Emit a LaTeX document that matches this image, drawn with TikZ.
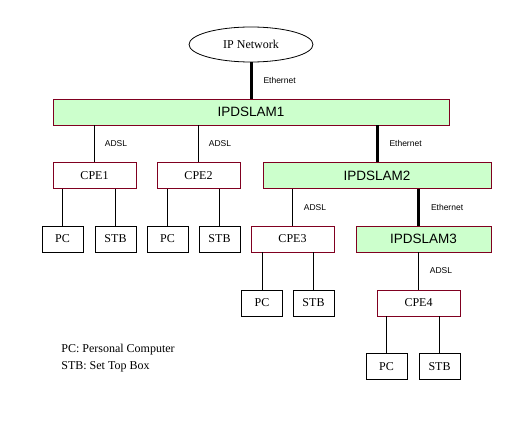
\documentclass[tikz,border=0pt]{standalone}
\usepackage{fontspec}
\setmainfont{Liberation Serif}
\setsansfont{Liberation Sans}
\usetikzlibrary{shapes.geometric}
\definecolor{boxred}{RGB}{128,0,32}
\definecolor{dslamgreen}{RGB}{204,255,204}
\begin{document}
\begin{tikzpicture}[x=1pt, y=-1pt, line width=0.8pt,
  dslam node/.style={rectangle,draw=boxred,fill=dslamgreen,minimum height=26pt,inner sep=0pt,font=\sffamily\fontsize{13.5}{14}\selectfont},
  cpe node/.style={rectangle,draw=boxred,fill=white,minimum width=83pt,minimum height=26pt,inner sep=0pt,font=\fontsize{12}{13}\selectfont},
  host node/.style={rectangle,draw,minimum width=41pt,minimum height=26pt,inner sep=0pt,font=\fontsize{12}{13}\selectfont},
  eth/.style={line width=3pt},
  link label/.style={midway,anchor=west,inner sep=0pt,font=\sffamily\fontsize{8.5}{9}\selectfont}]
\useasboundingbox (0,0) rectangle (517,428);
\node [ellipse,draw,minimum width=124pt,minimum height=35pt,inner sep=0pt,font=\fontsize{12}{13}\selectfont](net) at (251,44.5) {IP Network};
\node [dslam node,minimum width=396pt](dslam1) at (251,112) {IPDSLAM1};
\node [dslam node,minimum width=228pt](dslam2) at (377,175.5) {IPDSLAM2};
\node [dslam node,minimum width=135pt](dslam3) at (423.5,239) {IPDSLAM3};
\node [cpe node](cpe1) at (94.5,175.5) {CPE1};
\node [cpe node](cpe2) at (198.5,175.5) {CPE2};
\node [cpe node](cpe3) at (292.5,239) {CPE3};
\node [cpe node](cpe4) at (418.5,303) {CPE4};
\node [host node](pc1) at (62.5,239) {PC};
\node [host node](stb1) at (115.5,239) {STB};
\node [host node](pc2) at (167.5,239) {PC};
\node [host node](stb2) at (219.5,239) {STB};
\node [host node](pc3) at (262,303) {PC};
\node [host node](stb3) at (313.5,303) {STB};
\node [host node](pc4) at (386.5,366.5) {PC};
\node [host node](stb4) at (439.5,366.5) {STB};
\begin{scope}[every node/.style={anchor=west,inner sep=0pt,font=\fontsize{12}{13}\selectfont}]
\node (key1) at (61,350) {PC: Personal Computer};
\node (key2) at (61,367) {STB: Set Top Box};
\end{scope}
\path [eth]
    (net.south) edge node[link label,xshift=11pt] {Ethernet} (dslam1.north)
    (dslam1.south -| dslam2) edge node[link label,xshift=11pt] {Ethernet} (dslam2.north)
    (dslam2.south -| cpe4) edge node[link label,xshift=11pt] {Ethernet} (dslam3.north -| cpe4)
         ;
\path 
    (dslam1.south -| cpe1) edge node[link label,xshift=10pt] {ADSL} (cpe1.north)
    (dslam1.south -| cpe2) edge node[link label,xshift=10pt] {ADSL} (cpe2.north)
    (dslam2.south -| cpe3) edge node[link label,xshift=11pt] {ADSL} (cpe3.north)
    (dslam3.south -| cpe4) edge node[link label,xshift=11pt] {ADSL} (cpe4.north)
    (cpe1.south -| pc1) edge (pc1.north)
    (cpe1.south -| stb1) edge (stb1.north)
    (cpe2.south -| pc2) edge (pc2.north)
    (cpe2.south -| stb2) edge (stb2.north)
    (cpe3.south -| pc3) edge (pc3.north)
    (cpe3.south -| stb3) edge (stb3.north)
    (cpe4.south -| pc4) edge (pc4.north)
    (cpe4.south -| stb4) edge (stb4.north)
         ;
\end{tikzpicture}
\end{document}
